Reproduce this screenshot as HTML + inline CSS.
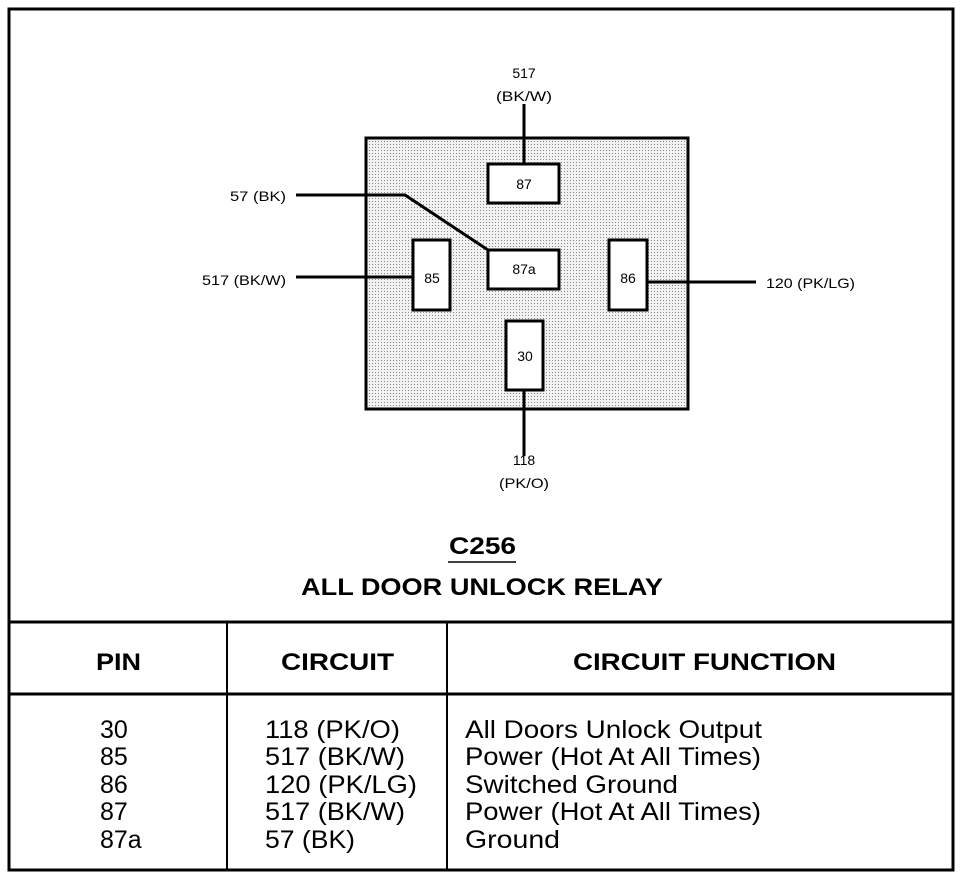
<!DOCTYPE html>
<html><head><style>
body{margin:0;background:#fff;}
svg text{font-family:"Liberation Sans",Arial,sans-serif;fill:#000;}
</style></head><body>
<svg width="976" height="878" viewBox="0 0 976 878" xmlns="http://www.w3.org/2000/svg">
<defs>
<pattern id="dots" width="3" height="3" patternUnits="userSpaceOnUse">
<rect width="3" height="3" fill="#f2f2f2"/><rect width="1" height="1" fill="#888"/>
</pattern>
</defs>
<rect x="9" y="9" width="944" height="861" fill="none" stroke="#000" stroke-width="3"/>
<line x1="9" y1="622" x2="953" y2="622" stroke="#000" stroke-width="3"/>
<line x1="9" y1="694" x2="953" y2="694" stroke="#000" stroke-width="3"/>
<line x1="227" y1="622" x2="227" y2="870" stroke="#000" stroke-width="2"/>
<line x1="447" y1="622" x2="447" y2="870" stroke="#000" stroke-width="2"/>

<rect x="366" y="138" width="322" height="271" fill="url(#dots)" stroke="#000" stroke-width="3"/>
<g stroke="#000" stroke-width="3" fill="none">
<line x1="524" y1="104" x2="524" y2="164"/>
<line x1="524" y1="390" x2="524" y2="456"/>
<line x1="296" y1="277" x2="413" y2="277"/>
<line x1="647" y1="282" x2="756" y2="282"/>
<polyline points="296,195 405,195 488,250"/>
</g>
<g fill="#fff" stroke="#000" stroke-width="3">
<rect x="488" y="164" width="71" height="39"/>
<rect x="488" y="250" width="71" height="39"/>
<rect x="413" y="240" width="37" height="70"/>
<rect x="609" y="240" width="38" height="70"/>
<rect x="506" y="321" width="37" height="69"/>
</g>
<g font-size="14" text-anchor="middle" lengthAdjust="spacingAndGlyphs">
<text x="524" y="189">87</text>
<text x="524" y="274">87a</text>
<text x="432" y="283">85</text>
<text x="628" y="283">86</text>
<text x="525" y="361">30</text>
<text x="524" y="78">517</text>
<text x="524" y="101" textLength="56" lengthAdjust="spacingAndGlyphs">(BK/W)</text>
<text x="524" y="465">118</text>
<text x="524" y="488" textLength="50" lengthAdjust="spacingAndGlyphs">(PK/O)</text>
<text x="286" y="201" text-anchor="end" textLength="56" lengthAdjust="spacingAndGlyphs">57 (BK)</text>
<text x="286" y="285" text-anchor="end" textLength="84" lengthAdjust="spacingAndGlyphs">517 (BK/W)</text>
<text x="766" y="288" text-anchor="start" textLength="89" lengthAdjust="spacingAndGlyphs">120 (PK/LG)</text>
</g>
<g font-weight="bold" font-size="24">
<text x="449" y="554" textLength="67" lengthAdjust="spacingAndGlyphs">C256</text>
<text x="301" y="595" textLength="362" lengthAdjust="spacingAndGlyphs">ALL DOOR UNLOCK RELAY</text>
<text x="96" y="670" textLength="45" lengthAdjust="spacingAndGlyphs">PIN</text>
<text x="281" y="670" textLength="113" lengthAdjust="spacingAndGlyphs">CIRCUIT</text>
<text x="573" y="670" textLength="263" lengthAdjust="spacingAndGlyphs">CIRCUIT FUNCTION</text>
</g>
<line x1="448" y1="562" x2="516" y2="562" stroke="#000" stroke-width="1.5"/>
<g font-size="25">
<text x="100" y="738">30</text><text x="100" y="765">85</text><text x="100" y="793">86</text><text x="100" y="820">87</text><text x="100" y="848">87a</text>
<text x="265" y="738" textLength="135" lengthAdjust="spacingAndGlyphs">118 (PK/O)</text>
<text x="265" y="765" textLength="140" lengthAdjust="spacingAndGlyphs">517 (BK/W)</text>
<text x="265" y="793" textLength="152" lengthAdjust="spacingAndGlyphs">120 (PK/LG)</text>
<text x="265" y="820" textLength="140" lengthAdjust="spacingAndGlyphs">517 (BK/W)</text>
<text x="265" y="848" textLength="90" lengthAdjust="spacingAndGlyphs">57 (BK)</text>
<text x="465" y="738" textLength="297" lengthAdjust="spacingAndGlyphs">All Doors Unlock Output</text>
<text x="465" y="765" textLength="296" lengthAdjust="spacingAndGlyphs">Power (Hot At All Times)</text>
<text x="465" y="793" textLength="213" lengthAdjust="spacingAndGlyphs">Switched Ground</text>
<text x="465" y="820" textLength="296" lengthAdjust="spacingAndGlyphs">Power (Hot At All Times)</text>
<text x="465" y="848" textLength="95" lengthAdjust="spacingAndGlyphs">Ground</text>
</g>
</svg>
</body></html>
